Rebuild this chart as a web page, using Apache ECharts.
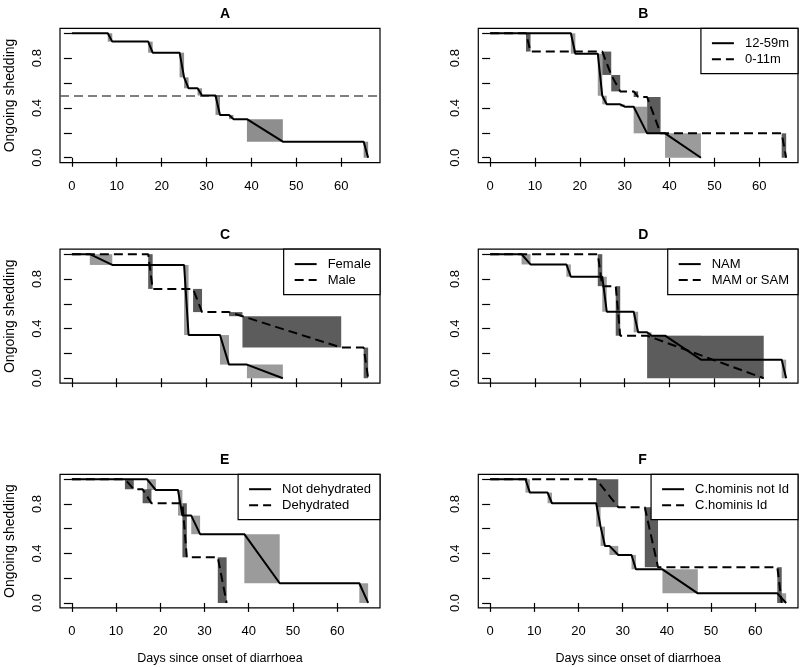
<!DOCTYPE html>
<html><head><meta charset="utf-8">
<script src="https://cdn.jsdelivr.net/npm/echarts@6/dist/echarts.min.js"></script>
<style>html,body{margin:0;padding:0;background:#fff}#c{width:800px;height:667px}</style>
</head><body><div id="c"></div>
<script>
// ---- tick labels ----
const xTicks = [0, 10, 20, 30, 40, 50, 60];
const yTicks = [0, 0.2, 0.4, 0.6, 0.8, 1];
const yTickLabels = [0, 0.4, 0.8];
const panelTitles = ['A', 'B', 'C', 'D', 'E', 'F'];
const medianLevel = 0.5;
const yTitle = 'Ongoing shedding';
const xTitle = 'Days since onset of diarrhoea';

// ---- survival steps: [interval start (day), interval end (day), survival after] ----
const stepsA = [[8,9,0.933],[17,18,0.844],[24,25,0.646],[25,26,0.558],[28,29,0.5],[32,33,0.344],[35,36,0.31],[39,47,0.129],[65,66,0]];
const stepsB_1259 = [[18,19,0.836],[24,25,0.498],[25,26,0.429],[29,30,0.41],[32,35,0.196],[39,47,0]];
const stepsB_011 = [[8,9,0.853],[25,27,0.665],[27,29,0.533],[32,33,0.488],[35,38,0.196],[65,66,0]];
const stepsC_female = [[4,9,0.913],[25,26,0.348],[33,35,0.11],[39,47,0]];
const stepsC_male = [[17,18,0.72],[27,29,0.533],[35,38,0.5],[38,60,0.247],[65,66,0]];
const stepsD_nam = [[7,9,0.917],[17,18,0.818],[25,26,0.536],[32,33,0.37],[35,36,0.343],[39,47,0.15],[65,66,0]];
const stepsD_mamsam = [[24,25,0.742],[28,29,0.343],[35,61,0]];
const stepsE_notdeh = [[17,19,0.913],[24,25,0.706],[27,29,0.556],[39,47,0.159],[65,67,0]];
const stepsE_deh = [[12,14,0.919],[16,18,0.806],[25,26,0.369],[33,35,0]];
const stepsF_notId = [[8,9,0.892],[13,14,0.806],[24,25,0.617],[25,26,0.461],[27,29,0.388],[32,33,0.272],[39,47,0.078],[65,67,0]];
const stepsF_id = [[24,29,0.774],[35,38,0.289],[65,66,0]];

// ---- group names ----
const namesB = ['12-59m', '0-11m'];
const namesC = ['Female', 'Male'];
const namesD = ['NAM', 'MAM or SAM'];
const namesE = ['Not dehydrated', 'Dehydrated'];
const namesF = ['C.hominis not Id', 'C.hominis Id'];

const LIGHT = '#9b9b9b', DARK = '#5c5c5c', SINGLE = '#8e8e8e';
const FONT = 'Liberation Sans, Arial, Helvetica, sans-serif';

const panels = [
  { groups: [{ name: 'All', steps: stepsA, dashed: false, shade: SINGLE }], legend: false, median: true },
  { groups: [{ name: namesB[0], steps: stepsB_1259, dashed: false, shade: LIGHT }, { name: namesB[1], steps: stepsB_011, dashed: true, shade: DARK }], legend: true },
  { groups: [{ name: namesC[0], steps: stepsC_female, dashed: false, shade: LIGHT }, { name: namesC[1], steps: stepsC_male, dashed: true, shade: DARK }], legend: true },
  { groups: [{ name: namesD[0], steps: stepsD_nam, dashed: false, shade: LIGHT }, { name: namesD[1], steps: stepsD_mamsam, dashed: true, shade: DARK }], legend: true },
  { groups: [{ name: namesE[0], steps: stepsE_notdeh, dashed: false, shade: LIGHT }, { name: namesE[1], steps: stepsE_deh, dashed: true, shade: DARK }], legend: true },
  { groups: [{ name: namesF[0], steps: stepsF_notId, dashed: false, shade: LIGHT }, { name: namesF[1], steps: stepsF_id, dashed: true, shade: DARK }], legend: true }
];

// layout
const colLeft = [60, 478.3];
const colWidth = [320, 319.7];
const rowTop = [28.3, 249.2, 474.3];
const rowHeight = [134.4, 134, 133.6];

function curvePoints(steps) {
  const pts = [[0, 1]];
  let s = 1;
  steps.forEach(st => { pts.push([st[0], s]); pts.push([st[1], st[2]]); s = st[2]; });
  return pts;
}
function boxes(steps) {
  const out = [];
  let s = 1;
  steps.forEach(st => { if (st[1] > st[0]) out.push([st[0], st[1], st[2], s]); s = st[2]; });
  return out;
}
function renderBox(color) {
  return function (params, api) {
    const p1 = api.coord([api.value(0), api.value(3)]);
    const p2 = api.coord([api.value(1), api.value(2)]);
    return { type: 'rect', shape: { x: p1[0], y: p1[1], width: p2[0] - p1[0], height: p2[1] - p1[1] }, style: { fill: color } };
  };
}

const grid = [], xAxis = [], yAxis = [], series = [], legend = [], graphic = [];
panels.forEach((p, i) => {
  const row = Math.floor(i / 2), col = i % 2;
  const left = colLeft[col], top = rowTop[row], width = colWidth[col], height = rowHeight[row];
  let maxDay = 0;
  p.groups.forEach(g => g.steps.forEach(st => { maxDay = Math.max(maxDay, st[1]); }));
  const ext = 0.04 * maxDay;
  grid.push({ left, top, width, height, show: true, borderColor: '#000', borderWidth: 1.2, backgroundColor: 'transparent' });
  xAxis.push({
    type: 'value', gridIndex: i, min: -ext, max: maxDay + ext,
    splitLine: { show: false }, axisLine: { show: false },
    axisTick: { show: true, customValues: xTicks, length: 9, lineStyle: { color: '#000', width: 1.2 } },
    axisLabel: { show: row !== 1, customValues: xTicks, margin: 17, fontSize: 13, color: '#000', fontFamily: FONT },
    name: row === 2 ? xTitle : '', nameLocation: 'middle', nameGap: 44,
    nameTextStyle: { fontSize: 12.5, color: '#000', fontFamily: FONT }
  });
  yAxis.push({
    type: 'value', gridIndex: i, min: -0.04, max: 1.04,
    splitLine: { show: false }, axisLine: { show: false },
    axisTick: { show: true, customValues: yTicks, length: 8, lineStyle: { color: '#000', width: 1.2 } },
    axisLabel: { customValues: yTickLabels, rotate: 90, margin: 16, fontSize: 13, color: '#000', fontFamily: FONT, formatter: v => Number(v).toFixed(1) },
    name: col === 0 ? yTitle : '', nameLocation: 'middle', nameGap: 43,
    nameTextStyle: { fontSize: 14, color: '#000', fontFamily: FONT }
  });
  p.groups.forEach((g, k) => {
    series.push({
      type: 'custom', name: panelTitles[i] + ' shade ' + k, xAxisIndex: i, yAxisIndex: i,
      data: boxes(g.steps), renderItem: renderBox(g.shade), encode: { x: [0, 1], y: [2, 3] },
      silent: true, z: 1 + k
    });
  });
  p.groups.forEach((g, k) => {
    const s = {
      type: 'line', name: g.name, xAxisIndex: i, yAxisIndex: i, data: curvePoints(g.steps),
      symbol: 'none', lineStyle: { color: '#000', width: 2, type: g.dashed ? [9, 5] : 'solid' },
      itemStyle: { color: '#000' }, z: 5, silent: true
    };
    if (p.median) {
      s.markLine = { silent: true, symbol: 'none', label: { show: false },
        lineStyle: { color: '#555', type: [9, 5], width: 1.5 }, data: [{ yAxis: medianLevel }] };
    }
    series.push(s);
  });
  if (p.legend) {
    legend.push({
      right: 800 - (left + width), top: top, orient: 'vertical',
      data: p.groups.map(g => g.name),
      borderColor: '#000', borderWidth: 1.2, borderRadius: 0, backgroundColor: '#fff',
      padding: [8.4, 9, 8, 10], itemWidth: 22, itemHeight: 14, itemGap: 3,
      itemStyle: { opacity: 0 },
      lineStyle: { width: 2, color: '#000', opacity: 1 },
      textStyle: { fontSize: 13, color: '#000', fontFamily: FONT, padding: [0, 0, 0, 6] },
      selectedMode: false, z: 10
    });
  }
  graphic.push({
    type: 'text', left: left + width / 2, top: top - 21.5, z: 20,
    style: { text: panelTitles[i], fontSize: 14, fontWeight: 'bold', fill: '#000', fontFamily: FONT, textAlign: 'center', textVerticalAlign: 'middle' }
  });
});

const chart = echarts.init(document.getElementById('c'), null, { renderer: 'canvas' });
chart.setOption({
  animation: false,
  backgroundColor: '#fff',
  textStyle: { fontFamily: FONT },
  grid, xAxis, yAxis, series, legend,
  graphic: { elements: graphic }
});
</script></body></html>
